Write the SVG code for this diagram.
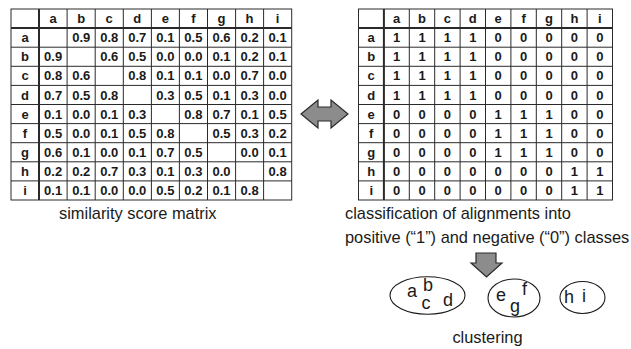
<svg xmlns="http://www.w3.org/2000/svg" width="631" height="349" viewBox="0 0 631 349">
<style>
  .grid { stroke: #2a2a2a; stroke-width: 1; fill: none; }
  .sep { stroke: #2a2a2a; stroke-width: 2; fill: none; }
  .cell { font-family: "Liberation Sans", Arial, sans-serif; font-size: 13px; font-weight: bold; fill: #1a1a1a; text-anchor: middle; }
  .cap { font-family: "Liberation Sans", Arial, sans-serif; font-size: 16.4px; fill: #1a1a1a; }
  .lbl { font-family: "Liberation Sans", Arial, sans-serif; font-size: 18px; fill: #1a1a1a; text-anchor: middle; }
  .blk { fill: #8c8c8c; stroke: #2a2a2a; stroke-width: 1.2; stroke-linejoin: miter; }
  .clu { fill: #ffffff; stroke: #1a1a1a; stroke-width: 1.1; }
</style>
<rect width="631" height="349" fill="#ffffff"/>

<g id="similarity-matrix">
  <rect class="grid" x="11" y="9" width="280.7" height="191"/>
  <path class="grid" d="M67.1,9V200 M95.2,9V200 M123.3,9V200 M151.4,9V200 M179.4,9V200 M207.5,9V200 M235.6,9V200 M263.6,9V200
    M11,47.2H291.7 M11,66.3H291.7 M11,85.4H291.7 M11,104.5H291.7 M11,123.6H291.7 M11,142.7H291.7 M11,161.8H291.7 M11,180.9H291.7"/>
  <path class="sep" d="M39,9V200 M11,28.1H291.7"/>
  <g class="cell">
    <text x="53.1" y="23">a</text><text x="81.2" y="23">b</text><text x="109.2" y="23">c</text><text x="137.3" y="23">d</text><text x="165.4" y="23">e</text><text x="193.4" y="23">f</text><text x="221.5" y="23">g</text><text x="249.6" y="23">h</text><text x="277.6" y="23">i</text>
    <text x="25" y="42.2">a</text><text x="25" y="61.3">b</text><text x="25" y="80.4">c</text><text x="25" y="99.5">d</text><text x="25" y="118.6">e</text><text x="25" y="137.7">f</text><text x="25" y="156.8">g</text><text x="25" y="175.9">h</text><text x="25" y="195">i</text>
    <!-- a -->
    <text x="81.2" y="42.2">0.9</text><text x="109.2" y="42.2">0.8</text><text x="137.3" y="42.2">0.7</text><text x="165.4" y="42.2">0.1</text><text x="193.4" y="42.2">0.5</text><text x="221.5" y="42.2">0.6</text><text x="249.6" y="42.2">0.2</text><text x="277.6" y="42.2">0.1</text>
    <!-- b -->
    <text x="53.1" y="61.3">0.9</text><text x="109.2" y="61.3">0.6</text><text x="137.3" y="61.3">0.5</text><text x="165.4" y="61.3">0.0</text><text x="193.4" y="61.3">0.0</text><text x="221.5" y="61.3">0.1</text><text x="249.6" y="61.3">0.2</text><text x="277.6" y="61.3">0.1</text>
    <!-- c -->
    <text x="53.1" y="80.4">0.8</text><text x="81.2" y="80.4">0.6</text><text x="137.3" y="80.4">0.8</text><text x="165.4" y="80.4">0.1</text><text x="193.4" y="80.4">0.1</text><text x="221.5" y="80.4">0.0</text><text x="249.6" y="80.4">0.7</text><text x="277.6" y="80.4">0.0</text>
    <!-- d -->
    <text x="53.1" y="99.5">0.7</text><text x="81.2" y="99.5">0.5</text><text x="109.2" y="99.5">0.8</text><text x="165.4" y="99.5">0.3</text><text x="193.4" y="99.5">0.5</text><text x="221.5" y="99.5">0.1</text><text x="249.6" y="99.5">0.3</text><text x="277.6" y="99.5">0.0</text>
    <!-- e -->
    <text x="53.1" y="118.6">0.1</text><text x="81.2" y="118.6">0.0</text><text x="109.2" y="118.6">0.1</text><text x="137.3" y="118.6">0.3</text><text x="193.4" y="118.6">0.8</text><text x="221.5" y="118.6">0.7</text><text x="249.6" y="118.6">0.1</text><text x="277.6" y="118.6">0.5</text>
    <!-- f -->
    <text x="53.1" y="137.7">0.5</text><text x="81.2" y="137.7">0.0</text><text x="109.2" y="137.7">0.1</text><text x="137.3" y="137.7">0.5</text><text x="165.4" y="137.7">0.8</text><text x="221.5" y="137.7">0.5</text><text x="249.6" y="137.7">0.3</text><text x="277.6" y="137.7">0.2</text>
    <!-- g -->
    <text x="53.1" y="156.8">0.6</text><text x="81.2" y="156.8">0.1</text><text x="109.2" y="156.8">0.0</text><text x="137.3" y="156.8">0.1</text><text x="165.4" y="156.8">0.7</text><text x="193.4" y="156.8">0.5</text><text x="249.6" y="156.8">0.0</text><text x="277.6" y="156.8">0.1</text>
    <!-- h -->
    <text x="53.1" y="175.9">0.2</text><text x="81.2" y="175.9">0.2</text><text x="109.2" y="175.9">0.7</text><text x="137.3" y="175.9">0.3</text><text x="165.4" y="175.9">0.1</text><text x="193.4" y="175.9">0.3</text><text x="221.5" y="175.9">0.0</text><text x="277.6" y="175.9">0.8</text>
    <!-- i -->
    <text x="53.1" y="195">0.1</text><text x="81.2" y="195">0.1</text><text x="109.2" y="195">0.0</text><text x="137.3" y="195">0.0</text><text x="165.4" y="195">0.5</text><text x="193.4" y="195">0.2</text><text x="221.5" y="195">0.1</text><text x="249.6" y="195">0.8</text>
  </g>
  <text class="cap" x="59" y="219">similarity score matrix</text>
</g>

<g id="classification-matrix">
  <rect class="grid" x="358.5" y="9" width="254" height="191"/>
  <path class="grid" d="M409.3,9V200 M434.7,9V200 M460.1,9V200 M485.5,9V200 M510.9,9V200 M536.3,9V200 M561.7,9V200 M587.1,9V200
    M358.5,47.2H612.5 M358.5,66.3H612.5 M358.5,85.4H612.5 M358.5,104.5H612.5 M358.5,123.6H612.5 M358.5,142.7H612.5 M358.5,161.8H612.5 M358.5,180.9H612.5"/>
  <path class="sep" d="M383.9,9V200 M358.5,28.1H612.5"/>
  <g class="cell">
    <text x="396.6" y="23">a</text><text x="422" y="23">b</text><text x="447.4" y="23">c</text><text x="472.8" y="23">d</text><text x="498.2" y="23">e</text><text x="523.6" y="23">f</text><text x="549" y="23">g</text><text x="574.4" y="23">h</text><text x="599.8" y="23">i</text>
    <text x="371.2" y="42.2">a</text><text x="371.2" y="61.3">b</text><text x="371.2" y="80.4">c</text><text x="371.2" y="99.5">d</text><text x="371.2" y="118.6">e</text><text x="371.2" y="137.7">f</text><text x="371.2" y="156.8">g</text><text x="371.2" y="175.9">h</text><text x="371.2" y="195">i</text>
  </g>
  <g class="cell">
    <text y="42.2"><tspan x="396.6">1</tspan><tspan x="422">1</tspan><tspan x="447.4">1</tspan><tspan x="472.8">1</tspan><tspan x="498.2">0</tspan><tspan x="523.6">0</tspan><tspan x="549">0</tspan><tspan x="574.4">0</tspan><tspan x="599.8">0</tspan></text>
    <text y="61.3"><tspan x="396.6">1</tspan><tspan x="422">1</tspan><tspan x="447.4">1</tspan><tspan x="472.8">1</tspan><tspan x="498.2">0</tspan><tspan x="523.6">0</tspan><tspan x="549">0</tspan><tspan x="574.4">0</tspan><tspan x="599.8">0</tspan></text>
    <text y="80.4"><tspan x="396.6">1</tspan><tspan x="422">1</tspan><tspan x="447.4">1</tspan><tspan x="472.8">1</tspan><tspan x="498.2">0</tspan><tspan x="523.6">0</tspan><tspan x="549">0</tspan><tspan x="574.4">0</tspan><tspan x="599.8">0</tspan></text>
    <text y="99.5"><tspan x="396.6">1</tspan><tspan x="422">1</tspan><tspan x="447.4">1</tspan><tspan x="472.8">1</tspan><tspan x="498.2">0</tspan><tspan x="523.6">0</tspan><tspan x="549">0</tspan><tspan x="574.4">0</tspan><tspan x="599.8">0</tspan></text>
    <text y="118.6"><tspan x="396.6">0</tspan><tspan x="422">0</tspan><tspan x="447.4">0</tspan><tspan x="472.8">0</tspan><tspan x="498.2">1</tspan><tspan x="523.6">1</tspan><tspan x="549">1</tspan><tspan x="574.4">0</tspan><tspan x="599.8">0</tspan></text>
    <text y="137.7"><tspan x="396.6">0</tspan><tspan x="422">0</tspan><tspan x="447.4">0</tspan><tspan x="472.8">0</tspan><tspan x="498.2">1</tspan><tspan x="523.6">1</tspan><tspan x="549">1</tspan><tspan x="574.4">0</tspan><tspan x="599.8">0</tspan></text>
    <text y="156.8"><tspan x="396.6">0</tspan><tspan x="422">0</tspan><tspan x="447.4">0</tspan><tspan x="472.8">0</tspan><tspan x="498.2">1</tspan><tspan x="523.6">1</tspan><tspan x="549">1</tspan><tspan x="574.4">0</tspan><tspan x="599.8">0</tspan></text>
    <text y="175.9"><tspan x="396.6">0</tspan><tspan x="422">0</tspan><tspan x="447.4">0</tspan><tspan x="472.8">0</tspan><tspan x="498.2">0</tspan><tspan x="523.6">0</tspan><tspan x="549">0</tspan><tspan x="574.4">1</tspan><tspan x="599.8">1</tspan></text>
    <text y="195"><tspan x="396.6">0</tspan><tspan x="422">0</tspan><tspan x="447.4">0</tspan><tspan x="472.8">0</tspan><tspan x="498.2">0</tspan><tspan x="523.6">0</tspan><tspan x="549">0</tspan><tspan x="574.4">1</tspan><tspan x="599.8">1</tspan></text>
  </g>
  <text class="cap" x="345" y="219">classification of alignments into</text>
  <text class="cap" x="345" y="243">positive (“1”) and negative (“0”) classes</text>
</g>

<g id="connectors">
  <path class="blk" d="M301,114 L318,100 L318,107 L331,107 L331,100 L348,114 L331,128 L331,121 L318,121 L318,128 Z"/>
  <path class="blk" d="M476,253 L496,253 L496,263 L502,263 L486.5,277 L471,263 L476,263 Z"/>
</g>

<g id="cluster-abcd">
  <ellipse class="clu" cx="427.5" cy="295.5" rx="37.5" ry="18.7"/>
  <text class="lbl" x="412" y="297">a</text>
  <text class="lbl" x="428" y="291">b</text>
  <text class="lbl" x="426" y="309">c</text>
  <text class="lbl" x="448" y="306">d</text>
</g>
<g id="cluster-efg">
  <ellipse class="clu" cx="514" cy="298" rx="26" ry="19"/>
  <text class="lbl" x="501" y="301">e</text>
  <text class="lbl" x="524.5" y="295">f</text>
  <text class="lbl" x="515" y="312">g</text>
</g>
<g id="cluster-hi">
  <ellipse class="clu" cx="582.5" cy="297.5" rx="22.5" ry="16"/>
  <text class="lbl" x="569" y="303">h</text>
  <text class="lbl" x="584" y="302">i</text>
</g>
<text class="cap" x="487.5" y="343" text-anchor="middle">clustering</text>
</svg>
